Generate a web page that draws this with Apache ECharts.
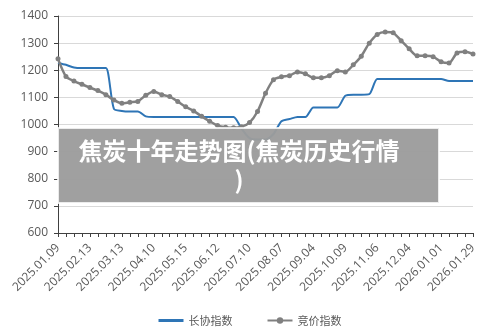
<!DOCTYPE html>
<html>
<head>
<meta charset="utf-8">
<script src="https://cdn.jsdelivr.net/npm/echarts@6/dist/echarts.min.js"></script>
<style>
html,body{margin:0;padding:0;background:#fff;}
#c{width:500px;height:332px;}
</style>
</head>
<body>
<div id="c"></div>
<script>
var categories = [
  '2025.01.09','2025.01.16','2025.01.23','2025.02.06','2025.02.13',
  '2025.02.20','2025.02.27','2025.03.06','2025.03.13',
  '2025.03.20','2025.03.27','2025.04.03','2025.04.10',
  '2025.04.17','2025.04.24','2025.05.08','2025.05.15',
  '2025.05.22','2025.05.29','2025.06.05','2025.06.12',
  '2025.06.19','2025.06.26','2025.07.03','2025.07.10',
  '2025.07.17','2025.07.24','2025.07.31','2025.08.07',
  '2025.08.14','2025.08.21','2025.08.28','2025.09.04',
  '2025.09.11','2025.09.18','2025.09.25','2025.10.09',
  '2025.10.16','2025.10.23','2025.10.30','2025.11.06',
  '2025.11.13','2025.11.20','2025.11.27','2025.12.04',
  '2025.12.11','2025.12.18','2025.12.25','2026.01.01',
  '2026.01.08','2026.01.15','2026.01.22','2026.01.29'
];
var contractIndex = [
  1227,1220,1210,1208,1208,1208,1208,1058,1050,1048,
  1048,1030,1028,1028,1028,1028,1028,1028,1028,1028,
  1028,1028,1028,985,950,945,945,965,1012,1020,
  1028,1028,1063,1063,1063,1063,1106,1110,1110,1112,
  1168,1168,1168,1168,1168,1168,1168,1168,1168,1160,
  1160,1160,1160
];
var auctionIndex = [
  1242,1177,1160,1148,1136,1125,1110,1090,1078,1082,
  1085,1108,1122,1110,1103,1085,1065,1050,1030,1012,
  996,990,988,992,1007,1048,1115,1165,1176,1180,
  1194,1187,1172,1172,1180,1198,1194,1220,1252,1300,
  1332,1341,1338,1309,1279,1253,1253,1250,1231,1227,
  1264,1268,1260
];
var seriesNames = ['长协指数','竞价指数'];
var overlayTitle = '焦炭十年走势图(焦炭历史行情\n)';

var chart = echarts.init(document.getElementById('c'), null, {renderer:'canvas'});
var txt = '#595959';
chart.setOption({
  animation:false,
  textStyle:{fontFamily:'"Noto Sans CJK SC","Noto Sans",sans-serif'},
  grid:{left:58,right:27,top:16,bottom:99,containLabel:false},
  legend:{
    bottom:1, left:'center', itemGap:34, itemWidth:25, itemHeight:8,
    textStyle:{color:txt,fontSize:11},
    data:[
      {name:seriesNames[0], icon:'path://M0,0 L25,0 L25,3 L0,3 Z', itemStyle:{color:'#2e75b6'}},
      {name:seriesNames[1]}
    ]
  },
  xAxis:{
    type:'category', boundaryGap:false, data:categories,
    axisLine:{lineStyle:{color:'#404040',width:1}},
    axisTick:{show:true,interval:0,length:4,lineStyle:{color:'#404040'}},
    axisLabel:{interval:3,rotate:45,color:txt,fontSize:12,margin:13,fontFamily:'"Open Sans","Noto Sans",sans-serif'},
    splitLine:{show:false}
  },
  yAxis:{
    type:'value', min:600, max:1400, interval:100,
    axisLine:{show:true,lineStyle:{color:'#404040',width:1}},
    axisTick:{show:true,length:4,lineStyle:{color:'#404040'}},
    axisLabel:{color:txt,fontSize:12,margin:10,fontFamily:'"Open Sans","Noto Sans",sans-serif',
      formatter:function(v){return String(v);}},
    splitLine:{lineStyle:{color:'#d9d9d9',width:1}}
  },
  series:[
    {name:seriesNames[0], type:'line', data:contractIndex, smooth:0.25,
     symbol:'none', lineStyle:{color:'#2e75b6',width:2}, itemStyle:{color:'#2e75b6'}, z:2},
    {name:seriesNames[1], type:'line', data:auctionIndex, smooth:0.25,
     symbol:'circle', symbolSize:5, showSymbol:true,
     lineStyle:{color:'#808080',width:2.5}, itemStyle:{color:'#808080'}, z:3}
  ],
  graphic:[
    {type:'rect', z:100, shape:{x:58,y:128,width:381,height:75},
     style:{fill:'rgba(156,156,156,0.96)',stroke:'rgba(255,255,255,0.8)',lineWidth:2}},
    {type:'text', z:101, x:239, y:136,
     style:{text:overlayTitle, fill:'#fff', fontSize:24, fontWeight:'bold',
            fontFamily:'"Noto Sans CJK SC",sans-serif', align:'center', verticalAlign:'top', lineHeight:29}}
  ]
});
</script>
</body>
</html>
